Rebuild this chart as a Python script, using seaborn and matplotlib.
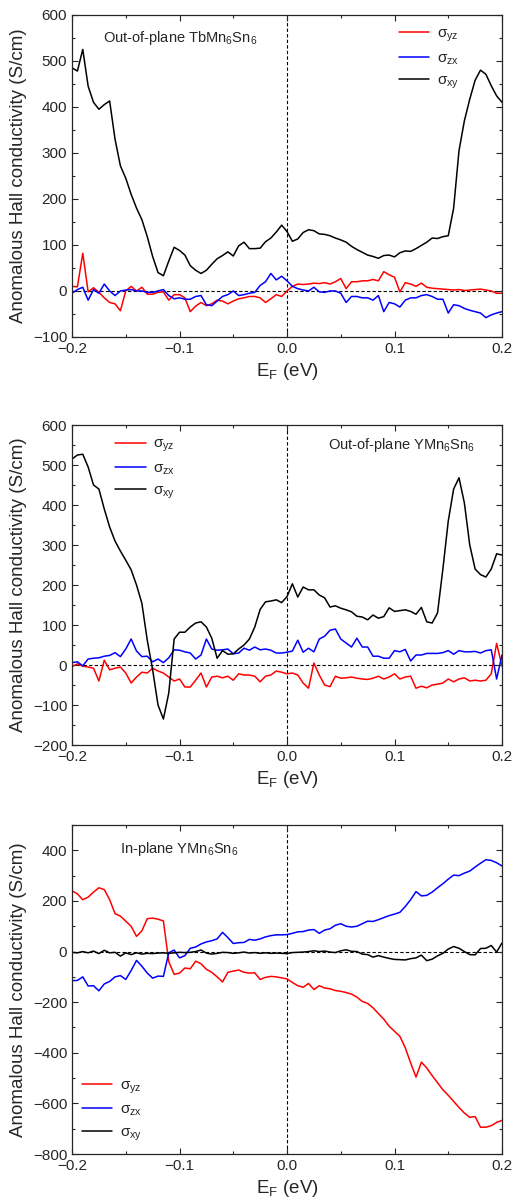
import numpy as np
import pandas as pd
import matplotlib
matplotlib.use('Agg')
import matplotlib.pyplot as plt
import seaborn as sns
from matplotlib.ticker import MultipleLocator

# energy grid (eV), step 5 meV
energy = np.round(np.arange(-0.2, 0.2001, 0.005), 3)

# out-of-plane TbMn6Sn6 (S/cm)
tb_yz = [10, 9, 82, -2, 7, -3, -15, -25, -28, -43, 0, 10, 0, 8, -7, -7, -3, -2, -20, -8,
         -8, -15, -45, -33, -25, -32, -28, -20, -22, -28, -22, -17, -15, -12, -12, -15, -25, -17, -8, -12,
         0, 10, 15, 14, 15, 17, 16, 18, 15, 20, 27, 5, 20, 20, 22, 22, 25, 22, 42, 35,
         30, -2, 18, 15, 10, 17, 8, 6, 5, 4, 3, 2, 3, 1, 2, 3, 4, 2, 0, -5, -5]
tb_zx = [-5, 3, 8, -20, 3, -5, 15, 0, -10, 0, 2, 3, 0, 0, -3, -3, 0, 3, -10, -17,
         -15, -18, -18, -12, -10, -30, -32, -22, -12, -8, 0, -10, -8, -5, -3, 12, 20, 38, 24, 32,
         22, 10, 5, 2, 0, 8, -2, -3, 0, 0, -5, -25, -12, -12, -15, -15, -20, -10, -45, -25,
         -28, -35, -20, -15, -15, -10, -8, -12, -18, -18, -48, -30, -32, -38, -42, -45, -48, -58, -52, -48, -45]
tb_xy = [485, 478, 525, 445, 410, 395, 405, 413, 330, 272, 245, 210, 180, 155, 118, 75, 40, 33, 65, 95,
         88, 78, 55, 45, 38, 45, 58, 70, 77, 85, 76, 98, 106, 92, 92, 93, 107, 115, 128, 143,
         129, 108, 113, 127, 133, 131, 124, 123, 120, 115, 111, 106, 97, 90, 84, 78, 75, 71, 77, 78,
         74, 83, 87, 86, 92, 99, 106, 115, 114, 118, 120, 180, 305, 370, 417, 458, 480, 471, 446, 424, 410]

# out-of-plane YMn6Sn6
y_yz = [-4, 3, -3, -5, -8, -40, 12, -12, -8, -5, -20, -45, -30, -18, -20, -8, -15, -20, -30, -40,
        -35, -55, -55, -38, -20, -55, -30, -28, -32, -28, -38, -22, -25, -25, -28, -42, -28, -25, -15, -18,
        -22, -20, -25, -45, -58, 5, -25, -50, -54, -28, -33, -32, -30, -33, -35, -36, -33, -28, -35, -30,
        -22, -35, -30, -28, -58, -53, -57, -50, -48, -45, -35, -42, -35, -32, -40, -38, -40, -38, -22, 54, -3]
y_zx = [6, 8, -2, 15, 17, 18, 22, 24, 31, 21, 40, 65, 35, 21, 22, 8, 15, 6, 18, 38,
        37, 33, 30, 15, 25, 65, 40, 37, 38, 40, 28, 30, 42, 37, 45, 38, 40, 37, 30, 30,
        32, 35, 62, 32, 42, 33, 65, 72, 87, 90, 65, 55, 45, 67, 45, 45, 22, 22, 17, 17,
        36, 33, 39, 10, 25, 25, 29, 29, 29, 31, 36, 27, 36, 33, 33, 34, 30, 36, 38, -35, 25]
y_xy = [515, 525, 527, 495, 450, 440, 390, 345, 310, 285, 262, 238, 200, 154, 62, -12, -100, -135, -70, 65,
        82, 82, 95, 105, 108, 95, 67, 17, 36, 27, 28, 40, 50, 65, 95, 139, 158, 160, 163, 156,
        171, 203, 170, 195, 188, 188, 175, 168, 145, 148, 142, 138, 133, 122, 120, 113, 125, 117, 121, 143,
        134, 136, 138, 134, 127, 144, 108, 105, 130, 240, 360, 440, 468, 405, 300, 240, 226, 220, 240, 278, 275]

# in-plane YMn6Sn6
iy_yz = [240, 228, 205, 215, 235, 252, 245, 205, 150, 140, 120, 100, 60, 82, 130, 132, 128, 121, -40, -90,
         -85, -65, -68, -38, -48, -70, -82, -100, -120, -82, -77, -73, -82, -85, -84, -110, -102, -98, -100, -104,
         -108, -122, -135, -141, -126, -150, -135, -144, -147, -154, -157, -162, -168, -180, -197, -205, -222, -245, -267, -295,
         -315, -335, -380, -440, -496, -437, -460, -490, -518, -546, -568, -592, -616, -638, -655, -652, -694, -694, -688, -675, -667]
iy_zx = [-115, -114, -100, -136, -135, -155, -128, -118, -100, -95, -110, -75, -35, -58, -85, -105, -97, -98, -5, 6,
         -25, -16, 13, 18, 30, 38, 43, 50, 76, 55, 32, 35, 36, 48, 45, 50, 58, 63, 66, 66,
         67, 72, 78, 79, 85, 87, 72, 85, 90, 104, 110, 100, 97, 100, 110, 120, 119, 126, 134, 142,
         148, 155, 178, 205, 237, 220, 222, 235, 252, 268, 286, 302, 300, 310, 318, 334, 349, 363, 360, 351, 338]
iy_xy = [-3, -5, 0, -5, 2, -8, 5, -5, -3, -18, -5, -12, -5, -10, -7, -8, -6, -5, -7, -5,
         -3, -4, -3, 0, 6, -6, -10, -7, -3, -4, -7, -5, -2, -6, -4, -7, -5, -7, -6, -7,
         -8, -4, -3, -2, 0, 3, 0, 2, -2, -4, 3, 7, 1, 0, -10, -12, -22, -16, -22, -27,
         -31, -32, -33, -28, -25, -14, -36, -30, -17, -7, 10, 20, 13, 0, -12, -13, 12, 13, 24, -2, 34]

labels = ['σ$_{yz}$', 'σ$_{zx}$', 'σ$_{xy}$']
colors = ['red', 'blue', 'black']

sns.set_style('ticks')
plt.rcParams['font.family'] = ['Liberation Sans', 'DejaVu Sans']
plt.rcParams['mathtext.fontset'] = 'custom'
plt.rcParams['mathtext.rm'] = 'Liberation Sans'
plt.rcParams['mathtext.it'] = 'Liberation Sans:italic'
plt.rcParams['mathtext.default'] = 'regular'


def draw(ax, yz, zx, xy, ylim, ymajor, title, title_xy, leg_loc, leg_anchor):
    df = pd.DataFrame({'E': energy, labels[0]: yz, labels[1]: zx, labels[2]: xy})
    df = df.melt(id_vars='E', var_name='comp', value_name='ahc')
    sns.lineplot(data=df, x='E', y='ahc', hue='comp', palette=colors,
                 estimator=None, lw=1.1, ax=ax)
    ax.axhline(0, color='black', lw=0.8, ls=(0, (3, 2)), zorder=0)
    ax.axvline(0, color='black', lw=0.8, ls=(0, (3, 2)), zorder=0)
    ax.set_xlim(-0.2, 0.2)
    ax.set_ylim(*ylim)
    ax.xaxis.set_major_locator(MultipleLocator(0.1))
    ax.xaxis.set_minor_locator(MultipleLocator(0.05))
    ax.yaxis.set_major_locator(MultipleLocator(ymajor))
    ax.yaxis.set_minor_locator(MultipleLocator(ymajor / 2))
    ax.tick_params(which='both', direction='in', top=True, right=True, width=0.8, labelsize=11)
    ax.tick_params(which='major', length=4)
    ax.tick_params(which='minor', length=2.5)
    for s in ax.spines.values():
        s.set_linewidth(0.9)
    ax.set_xlabel('E$_F$ (eV)', fontsize=13.5)
    ax.set_ylabel('Anomalous Hall conductivity (S/cm)', fontsize=13.5)
    ax.text(title_xy[0], title_xy[1], title, transform=ax.transAxes,
            fontsize=10.5, va='center', ha='left')
    ax.legend(frameon=False, loc=leg_loc, bbox_to_anchor=leg_anchor, fontsize=11,
              handlelength=2.0, handletextpad=0.5, labelspacing=0.45,
              borderpad=0, borderaxespad=0)


fig = plt.figure(figsize=(5.2, 12.03), dpi=100)
ax1 = fig.add_axes([0.1385, 0.7199, 0.8269, 0.2677])
ax2 = fig.add_axes([0.1385, 0.3807, 0.8269, 0.2660])
ax3 = fig.add_axes([0.1385, 0.0407, 0.8269, 0.2735])

draw(ax1, tb_yz, tb_zx, tb_xy, (-100, 600), 100, 'Out-of-plane TbMn$_6$Sn$_6$',
     (0.072, 0.929), 'upper left', (0.76, 0.963))
draw(ax2, y_yz, y_zx, y_xy, (-200, 600), 100, 'Out-of-plane YMn$_6$Sn$_6$',
     (0.595, 0.9375), 'upper left', (0.10, 0.963))
draw(ax3, iy_yz, iy_zx, iy_xy, (-800, 500), 200, 'In-plane YMn$_6$Sn$_6$',
     (0.112, 0.927), 'lower left', (0.023, 0.035))

fig.savefig('out.png', dpi=100)
